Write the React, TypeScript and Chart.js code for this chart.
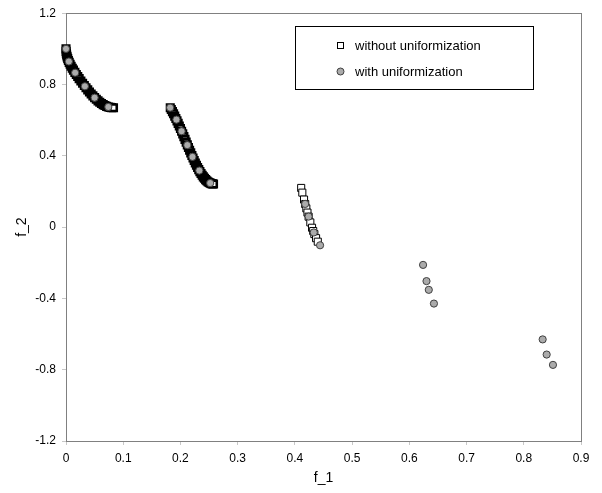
import React, { useEffect, useRef } from "react";
import { Chart, registerables } from "chart.js";

Chart.register(...registerables);

// "without uniformization" – dense points, first two front segments
const bandF1 = [
  0, 0.0002, 0.0006, 0.0012, 0.002, 0.003, 0.0042, 0.0056, 0.0072, 0.009, 0.011, 0.013,
  0.0155, 0.018, 0.0205, 0.023, 0.026, 0.029, 0.032, 0.035, 0.038, 0.041, 0.044, 0.047,
  0.05, 0.053, 0.056, 0.059, 0.062, 0.065, 0.068, 0.071, 0.074, 0.077, 0.08, 0.083,
  0.1822, 0.184, 0.186, 0.188, 0.19, 0.192, 0.194, 0.196, 0.198, 0.2, 0.202, 0.204,
  0.206, 0.208, 0.21, 0.212, 0.214, 0.216, 0.218, 0.22, 0.222, 0.224, 0.226, 0.228,
  0.23, 0.232, 0.234, 0.236, 0.238, 0.24, 0.242, 0.244, 0.246, 0.248, 0.25, 0.252,
  0.254, 0.256, 0.2578,
];
const bandF2 = [
  1.0, 0.9859, 0.9755, 0.9654, 0.9552, 0.9449, 0.9347, 0.9242, 0.9135, 0.9026, 0.8914, 0.8808,
  0.8683, 0.8562, 0.8445, 0.8331, 0.8198, 0.8068, 0.7941, 0.7817, 0.7698, 0.7581, 0.747, 0.7364,
  0.7264, 0.717, 0.7084, 0.7004, 0.6934, 0.6871, 0.6818, 0.6774, 0.6741, 0.6716, 0.6702, 0.6696,
  0.6698, 0.6597, 0.6479, 0.6356, 0.6228, 0.6096, 0.5959, 0.5818, 0.5675, 0.5528, 0.5379, 0.5228,
  0.5075, 0.4922, 0.4769, 0.4615, 0.4463, 0.4312, 0.4163, 0.4016, 0.3873, 0.3734, 0.3599, 0.3468,
  0.3344, 0.3225, 0.3112, 0.3007, 0.2909, 0.2818, 0.2737, 0.2664, 0.26, 0.2545, 0.25, 0.2465,
  0.244, 0.2426, 0.2421,
];

// "without uniformization" – sparse points on the third segment
const sparseF1 = [0.411, 0.413, 0.416, 0.418, 0.42, 0.422, 0.424, 0.427, 0.43, 0.432, 0.434, 0.437, 0.44];
const sparseF2 = [0.2197, 0.1933, 0.1546, 0.1295, 0.105, 0.0814, 0.0586, 0.0262, -0.0036, -0.022, -0.0391, -0.0622, -0.0818];

// "with uniformization"
const uniF1 = [
  0, 0.005, 0.016, 0.033, 0.05, 0.074,
  0.182, 0.193, 0.202, 0.212, 0.221, 0.233, 0.252,
  0.418, 0.424, 0.433, 0.444,
  0.624, 0.63, 0.634, 0.643,
  0.833, 0.84, 0.851,
];
const uniF2 = [
  1.0, 0.929, 0.866, 0.79, 0.726, 0.674,
  0.67, 0.603, 0.538, 0.46, 0.394, 0.317, 0.247,
  0.13, 0.059, -0.03, -0.102,
  -0.212, -0.303, -0.352, -0.429,
  -0.63, -0.715, -0.773,
];

const xTicks = [0, 0.1, 0.2, 0.3, 0.4, 0.5, 0.6, 0.7, 0.8, 0.9];
const yTicks = [-1.2, -0.8, -0.4, 0, 0.4, 0.8, 1.2];
const legendLabels = ["without uniformization", "with uniformization"];

const FONT = "'Liberation Sans', Arial, sans-serif";
const CIRCLE_FILL = "#ababab";
const CIRCLE_BORDER = "#404040";

const toPoints = (xs: number[], ys: number[]) => xs.map((x, i) => ({ x, y: ys[i] }));
const fmt = (v: number) => String(Math.round(v * 10) / 10);

const framePlugin = {
  id: "frame",
  beforeDatasetsDraw(chart: any) {
    const { ctx, chartArea } = chart;
    ctx.save();
    ctx.strokeStyle = "#808080";
    ctx.lineWidth = 1;
    ctx.strokeRect(
      Math.round(chartArea.left) + 0.5,
      Math.round(chartArea.top) + 0.5,
      Math.round(chartArea.right - chartArea.left),
      Math.round(chartArea.bottom - chartArea.top)
    );
    ctx.restore();
  },
};

const boxLegendPlugin = {
  id: "boxLegend",
  afterDraw(chart: any) {
    const { ctx, chartArea } = chart;
    const left = Math.round(chartArea.left + 229);
    const top = Math.round(chartArea.top + 13);
    const w = 238;
    const h = 63;
    ctx.save();
    ctx.fillStyle = "#ffffff";
    ctx.fillRect(left, top, w, h);
    ctx.strokeStyle = "#000000";
    ctx.lineWidth = 1;
    ctx.strokeRect(left + 0.5, top + 0.5, w, h);

    const symX = left + 45;
    const textX = left + 60;
    const row1 = top + 19;
    const row2 = top + 45;

    ctx.fillStyle = "#ffffff";
    ctx.strokeStyle = "#000000";
    ctx.fillRect(symX - 3, row1 - 3, 7, 7);
    ctx.strokeRect(symX - 3 + 0.5, row1 - 3 + 0.5, 6, 6);

    ctx.beginPath();
    ctx.arc(symX + 0.5, row2 + 0.5, 3.5, 0, Math.PI * 2);
    ctx.fillStyle = CIRCLE_FILL;
    ctx.fill();
    ctx.strokeStyle = CIRCLE_BORDER;
    ctx.stroke();

    ctx.fillStyle = "#000000";
    ctx.font = `13px ${FONT}`;
    ctx.textBaseline = "middle";
    ctx.textAlign = "left";
    ctx.fillText(legendLabels[0], textX, row1 + 1);
    ctx.fillText(legendLabels[1], textX, row2 + 1);
    ctx.restore();
  },
};

export default function App() {
  const canvasRef = useRef<HTMLCanvasElement | null>(null);

  useEffect(() => {
    document.body.style.margin = "0";
    const canvas = canvasRef.current;
    if (!canvas) return;
    const chart = new Chart(canvas, {
      type: "scatter",
      data: {
        datasets: [
          {
            label: legendLabels[0],
            data: toPoints(bandF1, bandF2),
            pointStyle: "rect",
            pointRadius: 4.6,
            pointBorderWidth: 2.6,
            pointBackgroundColor: "#ffffff",
            pointBorderColor: "#000000",
            showLine: false,
            order: 2,
            clip: false,
          },
          {
            label: legendLabels[0],
            data: toPoints(sparseF1, sparseF2),
            pointStyle: "rect",
            pointRadius: 5,
            pointBorderWidth: 1,
            pointBackgroundColor: "#ffffff",
            pointBorderColor: "#000000",
            showLine: false,
            order: 2,
            clip: false,
          },
          {
            label: legendLabels[1],
            data: toPoints(uniF1, uniF2),
            pointStyle: "circle",
            pointRadius: 3.6,
            pointBorderWidth: 1,
            pointBackgroundColor: CIRCLE_FILL,
            pointBorderColor: CIRCLE_BORDER,
            showLine: false,
            order: 1,
            clip: false,
          },
        ],
      },
      options: {
        responsive: false,
        animation: false,
        devicePixelRatio: 1,
        layout: { padding: { top: 12, right: 21, left: 0, bottom: 0 } },
        plugins: {
          legend: { display: false },
          tooltip: { enabled: false },
        },
        scales: {
          x: {
            type: "linear",
            min: 0,
            max: 0.9,
            afterBuildTicks: (scale: any) => {
              scale.ticks = xTicks.map((v) => ({ value: v }));
            },
            afterFit: (scale: any) => {
              scale.height = 52;
            },
            ticks: {
              font: { family: FONT, size: 12 },
              color: "#000000",
              padding: 6,
              maxRotation: 0,
              callback: (v: any) => fmt(Number(v)),
            },
            grid: {
              drawOnChartArea: false,
              drawTicks: true,
              tickLength: 4,
              color: "#c8c8c8",
            },
            border: { color: "#808080" },
            title: {
              display: true,
              text: "f_1",
              font: { family: FONT, size: 14 },
              color: "#000000",
              padding: { top: 0, bottom: 6 },
            },
          },
          y: {
            type: "linear",
            min: -1.2,
            max: 1.2,
            afterBuildTicks: (scale: any) => {
              scale.ticks = yTicks.map((v) => ({ value: v }));
            },
            afterFit: (scale: any) => {
              scale.width = 66;
            },
            ticks: {
              font: { family: FONT, size: 12 },
              color: "#000000",
              padding: 6,
              callback: (v: any) => fmt(Number(v)),
            },
            grid: {
              drawOnChartArea: false,
              drawTicks: true,
              tickLength: 4,
              color: "#c8c8c8",
            },
            border: { color: "#808080" },
            title: {
              display: true,
              text: "f_2",
              font: { family: FONT, size: 14 },
              color: "#000000",
              padding: { top: 14, bottom: 0 },
            },
          },
        },
      },
      plugins: [framePlugin, boxLegendPlugin],
    });
    return () => chart.destroy();
  }, []);

  return (
    <div style={{ width: 602, height: 493, background: "#ffffff" }}>
      <canvas ref={canvasRef} width={602} height={493} style={{ display: "block" }} />
    </div>
  );
}
